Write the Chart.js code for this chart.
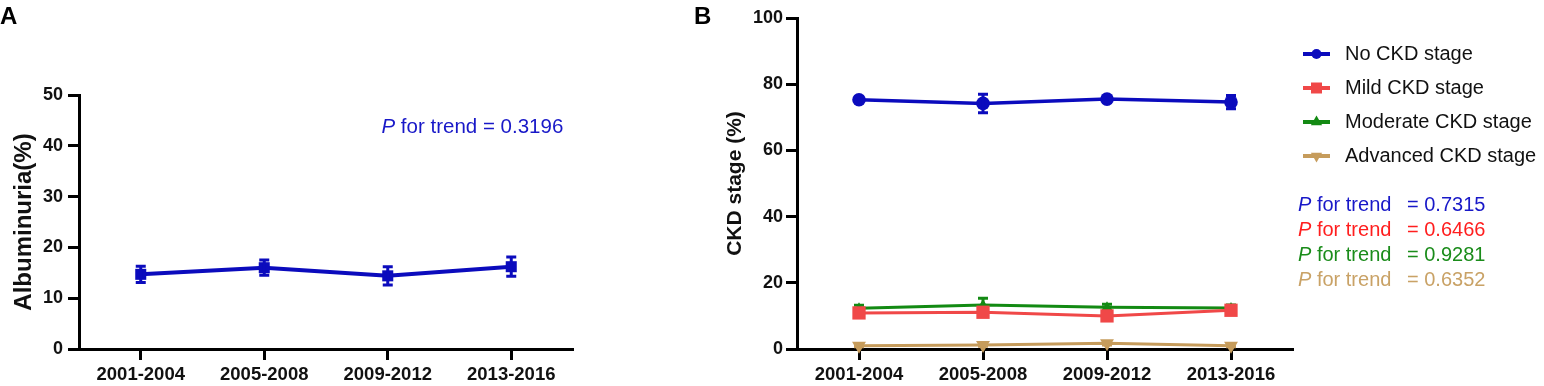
<!DOCTYPE html>
<html><head><meta charset="utf-8">
<script src="https://cdn.jsdelivr.net/npm/chart.js@4/dist/chart.umd.min.js"></script>
<style>
html,body{margin:0;padding:0;background:#fff;}
body{width:1544px;height:386px;position:relative;overflow:hidden;}
#ca{position:absolute;left:0;top:0;}
#cb{position:absolute;left:690px;top:0;}
</style></head><body>
<canvas id="ca" width="690" height="386"></canvas>
<canvas id="cb" width="854" height="386"></canvas>
<script>
// ---------- data ----------
const categories = ['2001-2004', '2005-2008', '2009-2012', '2013-2016'];

// Panel A
const albuminuria = [14.7, 16.0, 14.4, 16.2];
const albuminuriaErr = [1.6, 1.5, 1.8, 1.9];
const ticksA = [0, 10, 20, 30, 40, 50];
const pTrendA = '0.3196';

// Panel B
const seriesNames = ['No CKD stage', 'Mild CKD stage', 'Moderate CKD stage', 'Advanced CKD stage'];
const noCKD = [75.3, 74.2, 75.5, 74.6];
const noCKDErr = [0.8, 2.8, 0.8, 2.0];
const mildCKD = [10.9, 11.1, 10.0, 11.7];
const mildCKDErr = [1.0, 1.3, 1.0, 1.0];
const moderateCKD = [12.3, 13.3, 12.6, 12.4];
const moderateCKDErr = [0.9, 2.0, 0.9, 0.9];
const advancedCKD = [1.0, 1.2, 1.7, 1.0];
const advancedCKDErr = [0.3, 0.4, 0.5, 0.3];
const ticksB = [0, 20, 40, 60, 80, 100];
const pTrendB = ['0.7315', '0.6466', '0.9281', '0.6352'];

// ---------- styling ----------
const FONT = "'Liberation Sans', Arial, Helvetica, sans-serif";
const BLUE = '#0b0bbd', RED = '#f04848', GREEN = '#138a13', TAN = '#c69c5c';
const PBLUE = '#1818c8', PRED = '#ff1e1e', PGREEN = '#1a8c1a', PTAN = '#c9a266';

const errorBarPlugin = {
  id: 'errbars',
  afterDatasetDraw(chart, args) {
    const ds = chart.data.datasets[args.index];
    if (!ds.errorBars) return;
    const ys = chart.scales.y, ctx = chart.ctx;
    ctx.save();
    ctx.strokeStyle = ds.borderColor;
    ctx.lineWidth = ds.errWidth || 3;
    args.meta.data.forEach((pt, i) => {
      const v = ds.data[i], e = ds.errorBars[i];
      const x = pt.x;
      const yt = ys.getPixelForValue(v + e), yb = ys.getPixelForValue(v - e);
      const cw = (ds.capWidth || 10) / 2;
      ctx.beginPath();
      ctx.moveTo(x, yt); ctx.lineTo(x, yb);
      ctx.moveTo(x - cw, yt); ctx.lineTo(x + cw, yt);
      ctx.moveTo(x - cw, yb); ctx.lineTo(x + cw, yb);
      ctx.stroke();
    });
    ctx.restore();
  }
};

function drawPTrend(ctx, x, y, value, color, size, eqX) {
  ctx.save();
  ctx.fillStyle = color;
  ctx.textBaseline = 'middle';
  ctx.textAlign = 'left';
  ctx.font = `italic ${size}px ${FONT}`;
  ctx.fillText('P', x, y);
  let w = ctx.measureText('P').width;
  ctx.font = `${size}px ${FONT}`;
  if (eqX == null) {
    ctx.fillText(' for trend = ' + value, x + w, y);
  } else {
    ctx.fillText(' for trend', x + w, y);
    ctx.fillText('= ' + value, eqX, y);
  }
  ctx.restore();
}

function drawMarker(ctx, style, x, y, r, color, rot) {
  ctx.save();
  ctx.fillStyle = color;
  ctx.beginPath();
  if (style === 'circle') {
    ctx.arc(x, y, r, 0, Math.PI * 2);
  } else if (style === 'rect') {
    ctx.rect(x - r, y - r, 2 * r, 2 * r);
  } else if (style === 'triangle') {
    const dir = rot ? 1 : -1;
    ctx.moveTo(x, y + dir * r);
    ctx.lineTo(x - r * 0.866, y - dir * r * 0.5);
    ctx.lineTo(x + r * 0.866, y - dir * r * 0.5);
    ctx.closePath();
  }
  ctx.fill();
  ctx.restore();
}

function makeScales(yTicks, yTitle, titleSize, titlePad, yAxisWidth, yTickPad) {
  const gridOpts = {display: true, drawOnChartArea: false, drawTicks: true, tickLength: 11, tickWidth: 3, tickColor: '#000', offset: false};
  return {
    x: {
      type: 'category', offset: true,
      grid: gridOpts,
      border: {display: true, width: 3, color: '#000'},
      ticks: {color: '#111', font: {family: FONT, size: 18.5, weight: 'bold'}, padding: 4, maxRotation: 0, autoSkip: false},
      afterFit: s => { s.height = 37; }
    },
    y: {
      min: yTicks[0], max: yTicks[yTicks.length - 1],
      grid: gridOpts,
      border: {display: true, width: 3, color: '#000'},
      ticks: {stepSize: yTicks[1] - yTicks[0], color: '#111', font: {family: FONT, size: 18, weight: 'bold'}, padding: yTickPad},
      title: {display: true, text: yTitle, color: '#111', font: {family: FONT, size: titleSize, weight: 'bold'}, padding: {top: titlePad, bottom: 0}},
      afterFit: s => { s.width = yAxisWidth; }
    }
  };
}

// ---------- Panel A ----------
new Chart(document.getElementById('ca'), {
  type: 'line',
  data: {
    labels: categories,
    datasets: [{
      label: 'Albuminuria',
      data: albuminuria,
      errorBars: albuminuriaErr,
      capWidth: 10, errWidth: 3,
      borderColor: BLUE, backgroundColor: BLUE,
      borderWidth: 4, pointStyle: 'rect', pointRadius: 7.8,
      pointBorderWidth: 0, tension: 0, clip: false
    }]
  },
  options: {
    responsive: false, devicePixelRatio: 1, animation: false,
    layout: {padding: {left: 0, right: 117, top: 95, bottom: 0}},
    plugins: {legend: {display: false}, tooltip: {enabled: false}},
    scales: makeScales(ticksA, 'Albuminuria(%)', 24, 10, 79, 5)
  },
  plugins: [errorBarPlugin, {
    id: 'annA',
    afterDraw(chart) {
      const ctx = chart.ctx;
      ctx.save();
      ctx.fillStyle = '#000';
      ctx.font = `bold 24px ${FONT}`;
      ctx.textBaseline = 'alphabetic';
      ctx.fillText('A', 0, 24);
      ctx.restore();
      drawPTrend(ctx, 381.5, 127, pTrendA, PBLUE, 20.5);
    }
  }]
});

// ---------- Panel B ----------
const styleB = [
  {color: BLUE, style: 'circle', r: 6.8, rot: 0, lw: 3.5},
  {color: RED, style: 'rect', r: 9.4, rot: 0, lw: 3},
  {color: GREEN, style: 'triangle', r: 6, rot: 0, lw: 3},
  {color: TAN, style: 'triangle', r: 8, rot: 180, lw: 3}
];
const valuesB = [noCKD, mildCKD, moderateCKD, advancedCKD];
const errorsB = [noCKDErr, mildCKDErr, moderateCKDErr, advancedCKDErr];
const pColorsB = [PBLUE, PRED, PGREEN, PTAN];

new Chart(document.getElementById('cb'), {
  type: 'line',
  data: {
    labels: categories,
    datasets: seriesNames.map((name, i) => ({
      label: name,
      data: valuesB[i],
      errorBars: errorsB[i],
      capWidth: 10, errWidth: 3,
      borderColor: styleB[i].color, backgroundColor: styleB[i].color,
      borderWidth: styleB[i].lw, pointStyle: styleB[i].style,
      pointRadius: styleB[i].r, pointRotation: styleB[i].rot,
      pointBorderWidth: 0, tension: 0, clip: false
    }))
  },
  options: {
    responsive: false, devicePixelRatio: 1, animation: false,
    layout: {padding: {left: 0, right: 251, top: 18, bottom: 0}},
    plugins: {legend: {display: false}, tooltip: {enabled: false}},
    scales: makeScales(ticksB, 'CKD stage (%)', 21, 33, 107, 3)
  },
  plugins: [errorBarPlugin, {
    id: 'annB',
    afterDraw(chart) {
      const ctx = chart.ctx;
      ctx.save();
      ctx.fillStyle = '#000';
      ctx.font = `bold 24px ${FONT}`;
      ctx.textBaseline = 'alphabetic';
      ctx.fillText('B', 4, 24);
      ctx.restore();
      // legend
      const rows = [54, 88, 122, 156];
      seriesNames.forEach((name, i) => {
        const y = rows[i], s = styleB[i];
        ctx.save();
        ctx.strokeStyle = s.color; ctx.lineWidth = 4;
        ctx.beginPath(); ctx.moveTo(613, y); ctx.lineTo(640, y); ctx.stroke();
        ctx.restore();
        const lr = s.style === 'circle' ? 5 : s.style === 'rect' ? 5.5 : 6.5;
        drawMarker(ctx, s.style, 626.5, y, lr, s.color, s.rot);
        ctx.save();
        ctx.fillStyle = '#111';
        ctx.font = `20px ${FONT}`;
        ctx.textBaseline = 'middle';
        ctx.fillText(name, 655, y);
        ctx.restore();
      });
      const prow = [205, 230, 255, 280];
      pTrendB.forEach((p, i) => drawPTrend(ctx, 608, prow[i], p, pColorsB[i], 20, 717));
    }
  }]
});
</script>
</body></html>
